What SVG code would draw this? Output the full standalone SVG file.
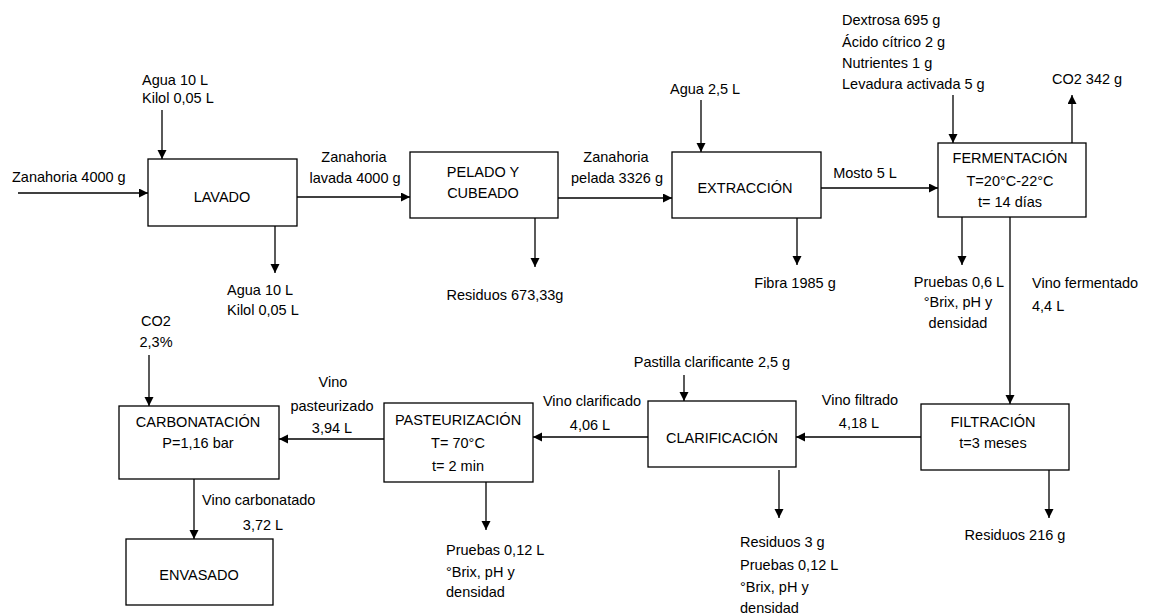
<svg xmlns="http://www.w3.org/2000/svg" width="1151" height="616" viewBox="0 0 1151 616">
<style>
  .box { fill: #fff; stroke: #000; stroke-width: 1.3; }
  text { font-family: "Liberation Sans", Arial, sans-serif; font-size: 14.5px; fill: #000; }
  .c { text-anchor: middle; }
  .conn path { fill: none; stroke: #000; stroke-width: 1.3; marker-end: url(#arr); }
</style>
<defs>
  <marker id="arr" markerUnits="userSpaceOnUse" markerWidth="10" markerHeight="10" refX="9" refY="4.5" orient="auto">
    <path d="M0,0 L9,4.5 L0,9 z" fill="#000"/>
  </marker>
</defs>
<rect width="1151" height="616" fill="#fff"/>

<g class="conn" id="connectors">
  <path d="M18,193 H148"/>
  <path d="M162,110 V159"/>
  <path d="M275,226 V273"/>
  <path d="M297,197 H410"/>
  <path d="M535,218 V267"/>
  <path d="M558,198 H672"/>
  <path d="M701,100 V152"/>
  <path d="M797,218 V265"/>
  <path d="M821,188 H938"/>
  <path d="M953,95 V143"/>
  <path d="M1072,143 V95"/>
  <path d="M962,217 V265"/>
  <path d="M1010,217 V404"/>
  <path d="M1049,470 V518"/>
  <path d="M921,437 H796"/>
  <path d="M684,375 V401"/>
  <path d="M779,470 V518"/>
  <path d="M648,437 H533"/>
  <path d="M486,482 V530"/>
  <path d="M384,439 H279"/>
  <path d="M149,355 V406"/>
  <path d="M194,479 V539"/>
</g>

<g id="lavado">
  <rect class="box" x="148" y="159" width="149" height="67"/>
  <text class="c" x="222" y="202">LAVADO</text>
</g>
<g id="pelado">
  <rect class="box" x="410" y="152" width="148" height="66"/>
  <text class="c" x="483" y="177">PELADO Y</text>
  <text class="c" x="483" y="198">CUBEADO</text>
</g>
<g id="extraccion">
  <rect class="box" x="672" y="152" width="149" height="66"/>
  <text class="c" x="745" y="193">EXTRACCIÓN</text>
</g>
<g id="fermentacion">
  <rect class="box" x="938" y="143" width="148" height="74"/>
  <text class="c" x="1010" y="163">FERMENTACIÓN</text>
  <text class="c" x="1010" y="186">T=20°C-22°C</text>
  <text class="c" x="1010" y="207">t= 14 días</text>
</g>
<g id="filtracion">
  <rect class="box" x="921" y="404" width="148" height="66"/>
  <text class="c" x="993" y="427">FILTRACIÓN</text>
  <text class="c" x="993" y="448">t=3 meses</text>
</g>
<g id="clarificacion">
  <rect class="box" x="648" y="401" width="148" height="66"/>
  <text class="c" x="722" y="443">CLARIFICACIÓN</text>
</g>
<g id="pasteurizacion">
  <rect class="box" x="384" y="403" width="149" height="79"/>
  <text class="c" x="458" y="425">PASTEURIZACIÓN</text>
  <text class="c" x="458" y="448">T= 70°C</text>
  <text class="c" x="458" y="471">t= 2 min</text>
</g>
<g id="carbonatacion">
  <rect class="box" x="119" y="406" width="160" height="73"/>
  <text class="c" x="198" y="427">CARBONATACIÓN</text>
  <text class="c" x="198" y="448">P=1,16 bar</text>
</g>
<g id="envasado">
  <rect class="box" x="126" y="539" width="147" height="66"/>
  <text class="c" x="199" y="580">ENVASADO</text>
</g>

<g id="labels">
  <text x="142" y="85">Agua 10 L</text>
  <text x="142" y="103">Kilol 0,05 L</text>
  <text x="12" y="182">Zanahoria 4000 g</text>
  <text x="227" y="295">Agua 10 L</text>
  <text x="227" y="315">Kilol 0,05 L</text>
  <text class="c" x="354" y="162">Zanahoria</text>
  <text class="c" x="355" y="183">lavada 4000 g</text>
  <text class="c" x="616" y="162">Zanahoria</text>
  <text class="c" x="617" y="183">pelada 3326 g</text>
  <text class="c" x="505" y="300">Residuos 673,33g</text>
  <text x="670" y="94">Agua 2,5 L</text>
  <text class="c" x="865" y="178">Mosto 5 L</text>
  <text class="c" x="795" y="288">Fibra 1985 g</text>
  <text x="842" y="25">Dextrosa 695 g</text>
  <text x="842" y="47">Ácido cítrico 2 g</text>
  <text x="842" y="68">Nutrientes 1 g</text>
  <text x="842" y="89">Levadura activada 5 g</text>
  <text x="1052" y="84">CO2 342 g</text>
  <text class="c" x="959" y="287">Pruebas 0,6 L</text>
  <text class="c" x="958" y="307">°Brix, pH y</text>
  <text class="c" x="958" y="328">densidad</text>
  <text x="1032" y="288">Vino fermentado</text>
  <text x="1032" y="311">4,4 L</text>
  <text class="c" x="1015" y="540">Residuos 216 g</text>
  <text class="c" x="860" y="405">Vino filtrado</text>
  <text class="c" x="859" y="428">4,18 L</text>
  <text class="c" x="712" y="367">Pastilla clarificante 2,5 g</text>
  <text x="740" y="547">Residuos 3 g</text>
  <text x="740" y="570">Pruebas 0,12 L</text>
  <text x="740" y="592">°Brix, pH y</text>
  <text x="740" y="613">densidad</text>
  <text class="c" x="592" y="406">Vino clarificado</text>
  <text class="c" x="590" y="430">4,06 L</text>
  <text x="446" y="555">Pruebas 0,12 L</text>
  <text x="446" y="577">°Brix, pH y</text>
  <text x="446" y="597">densidad</text>
  <text class="c" x="333" y="387">Vino</text>
  <text class="c" x="332" y="411">pasteurizado</text>
  <text class="c" x="332" y="433">3,94 L</text>
  <text class="c" x="156" y="326">CO2</text>
  <text class="c" x="156" y="347">2,3%</text>
  <text x="202" y="505">Vino carbonatado</text>
  <text class="c" x="263" y="530">3,72 L</text>
</g>
</svg>
